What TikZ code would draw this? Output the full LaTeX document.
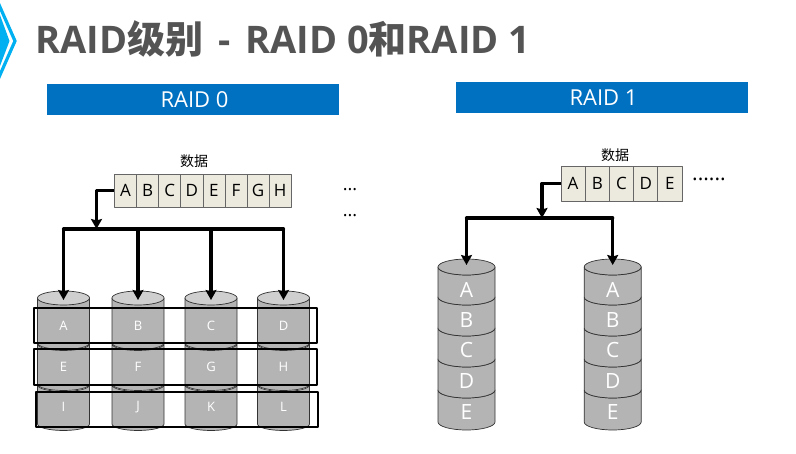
\documentclass[tikz,border=0pt]{standalone}
\usepackage{fontspec}
\setmainfont{Open Sans}
\newfontfamily\cjk{Noto Sans CJK SC}
\usetikzlibrary{arrows.meta,positioning}
\definecolor{barblue}{HTML}{0070C0}
\definecolor{titlegray}{HTML}{545454}
\definecolor{cellfill}{HTML}{ECEADF}
\definecolor{diskgray}{HTML}{B4B4B4}
\definecolor{disktop}{HTML}{CFCFCF}
\definecolor{arrowcyan}{HTML}{00B0F0}
\tikzset{
  every picture/.style={line join=round, >=Stealth},
  bar/.style={fill=barblue, text=white, minimum width=292pt, inner sep=0pt, font=\fontsize{22pt}{22pt}\selectfont},
  cell/.style={draw=black!60, fill=cellfill, inner sep=0pt, line width=0.7pt, font=\fontsize{17pt}{17pt}\selectfont},
  bus/.style={line width=3.2pt, line cap=round},
  feed/.style={-{Stealth[length=10pt,width=11pt,inset=1.5pt]}, line width=3.2pt},
  disk/.style={draw=black!80, fill=diskgray, line width=0.7pt},
  lid/.style={draw=black!80, line width=0.7pt},
  tag/.style={text=white, inner sep=0pt},
  band/.style={draw=black, line width=1.6pt},
  word/.style={inner sep=0pt, font=\cjk\fontsize{14pt}{14pt}\selectfont},
  dots/.style={inner sep=0pt, font=\fontsize{18pt}{18pt}\selectfont},
}
% one platter: centre x, half width, top of side, bottom of side, arc depth
\newcommand{\platter}[5]{
  \path[disk] (#1-#2,#3) -- (#1-#2,#4) arc[start angle=180, end angle=360, x radius=#2, y radius=-#5] -- (#1+#2,#3) arc[start angle=0, end angle=-180, x radius=#2, y radius=-#5] -- cycle;
}
\begin{document}
\begin{tikzpicture}[x=1pt,y=-1pt]
\useasboundingbox (0,0) rectangle (796,454);

% corner chevrons
\fill[arrowcyan] (0,15)--(9.5,41)--(0,66)--cycle;
\draw[arrowcyan, line width=3.2pt, line join=miter] (-4,-2)--(15,41)--(-4,84);

% title
\node[anchor=base west, inner sep=0pt, text=titlegray, font=\bfseries\fontsize{38pt}{38pt}\selectfont] (title) at (35,54)
  {RAID{\cjk 级别}\hspace{5pt} - \hspace{5pt}RAID 0{\cjk 和}RAID 1};

% headers
\node[bar, minimum height=31pt] (head0) at (193,99.5) {\hspace{3pt}RAID 0};
\node[bar, minimum height=31pt] (head1) at (602,97.5) {\hspace{3pt}RAID 1};

% RAID 0 data strip
\foreach \n/\t [count=\i from 0] in {a/A,b/B,c/C,d/D,e/E,f/F,g/G,h/H}
  \node[cell, minimum width=22.1pt, minimum height=33pt] (r0\n) at (125.5+22.1*\i,190.5) {\t};
\node[word] (r0word) at (194,161) {数据};
\node[dots] (r0dotsa) at (350,189.5) {...};
\node[dots] (r0dotsb) at (350,215.5) {...};

% RAID 0 disks, three platters each
\foreach \x/\n/\ta/\tb/\tc in {63.5/a/A/E/I,138/b/B/F/J,211/c/C/G/K,283.5/d/D/H/L}{
  \platter{\x}{26}{385}{424}{6.5}
  \platter{\x}{26}{344}{384}{6.5}
  \platter{\x}{26}{298}{343}{6.5}
  \path[lid, fill=disktop] (\x,298) ellipse[x radius=26, y radius=7];
  \node[tag, font=\fontsize{13pt}{13pt}\selectfont] at (\x,326) {\ta};
  \node[tag, font=\fontsize{13pt}{13pt}\selectfont] at (\x,366.5) {\tb};
  \node[tag, font=\fontsize{13pt}{13pt}\selectfont] at (\x,407) {\tc};
  \coordinate (r0top\n) at (\x,300);
  \coordinate (r0bus\n) at (\x,229);
}

% stripes across the disks
\draw[band] (34,308) rectangle (317,343);
\draw[band] (34,349) rectangle (317,385);
\draw[band] (36,392) rectangle (318,427);

% RAID 0 connectors
\coordinate (r0drop) at (96.5,229);
\draw[feed] (r0a.west) -| (r0drop);
\draw[bus] (r0busa) -- (r0busd);
\foreach \n in {a,b,c,d}
  \draw[feed] (r0bus\n) -- (r0top\n);

% RAID 1 data strip
\foreach \n/\t [count=\i from 0] in {a/A,b/B,c/C,d/D,e/E}
  \node[cell, minimum width=24.2pt, minimum height=35pt] (r1\n) at (573.1+24.2*\i,183.5) {\t};
\node[word] (r1word) at (615,155) {数据};
\node[dots, font=\fontsize{21pt}{21pt}\selectfont] (r1dots) at (709,179) {......};

% RAID 1 disks, five platters each
\foreach \x/\n in {466.5/a,612.7/b}{
  \platter{\x}{28.5}{390}{422}{8}
  \platter{\x}{28.5}{359}{390}{8}
  \platter{\x}{28.5}{328}{359}{8}
  \platter{\x}{28.5}{297}{328}{8}
  \platter{\x}{28.5}{267}{297}{8}
  \path[lid, fill=diskgray] (\x,267) ellipse[x radius=28.5, y radius=8];
  \foreach \t/\y in {A/290,B/320,C/350,D/381,E/412}
    \node[tag, font=\fontsize{21pt}{21pt}\selectfont] at (\x,\y) {\t};
  \coordinate (r1top\n) at (\x,265);
  \coordinate (r1bus\n) at (\x,218);
}

% RAID 1 connectors
\coordinate (r1drop) at (542,218);
\draw[feed] (r1a.west) -| (r1drop);
\draw[bus] (r1busa) -- (r1busb);
\foreach \n in {a,b}
  \draw[feed] (r1bus\n) -- (r1top\n);
\end{tikzpicture}
\end{document}
